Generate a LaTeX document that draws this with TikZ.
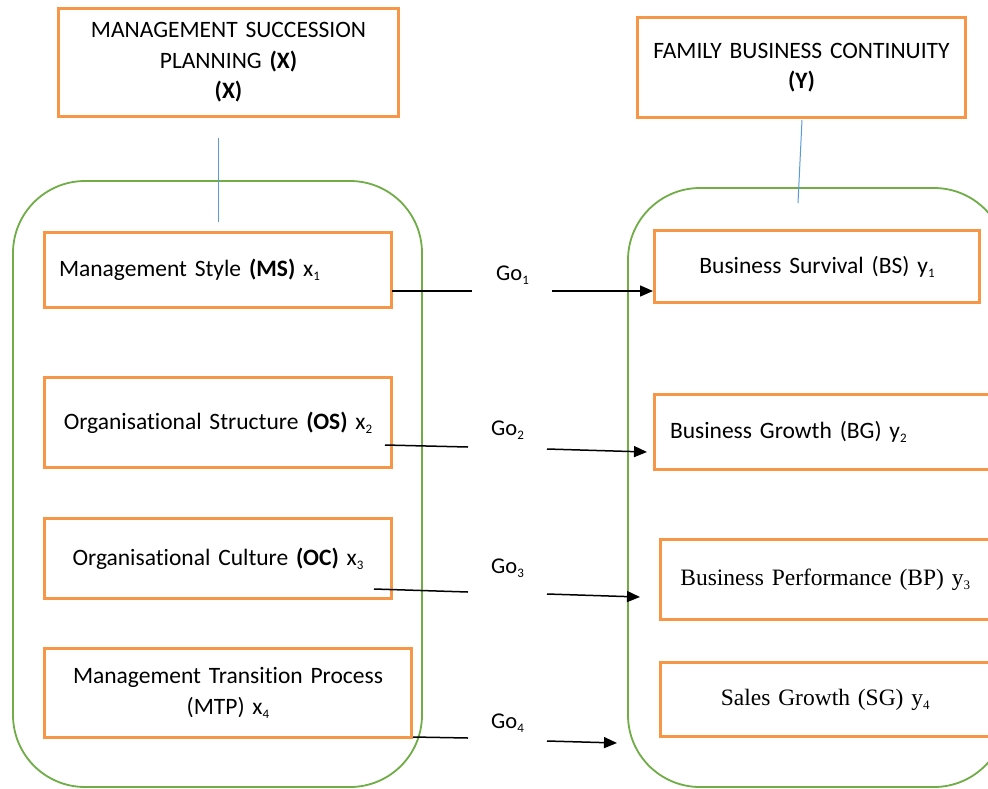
\documentclass[tikz,border=0pt]{standalone}
\usepackage{fontspec}
\setmainfont{Carlito}[Ligatures=NoCommon]
\newfontfamily\tnrfont{Liberation Serif}
\usetikzlibrary{arrows.meta}
\definecolor{boxor}{RGB}{247,150,70}
\definecolor{grpgreen}{RGB}{112,173,71}
\definecolor{linkblue}{RGB}{91,155,213}
\newcommand\subx[1]{\raisebox{-4pt}{\fontsize{13}{13}\selectfont #1}}
\begin{document}
\begin{tikzpicture}[x=1pt,y=-1pt,
  font=\fontsize{23.5}{30.5}\selectfont,
  box/.style={draw=boxor, line width=3pt, inner xsep=5pt, inner ysep=0pt, align=center},
  grp/.style={draw=grpgreen, line width=1.8pt, rounded corners=72pt},
  link/.style={draw=linkblue, line width=1pt},
  conn/.style={draw=black, line width=1.5pt},
  arr/.style={conn, -{Triangle[length=13pt,width=11pt]}},
  golbl/.style={anchor=base west, font=\fontsize{22.5}{24}\selectfont, inner sep=0pt}]
\clip (0,0) rectangle (988,788);
\fill[white] (0,0) rectangle (988,788);

% group containers
\draw[grp] (13,181) rectangle (422,787);
\draw[grp] (628,188) rectangle (1006,787);

% header boxes
\node[box, text width=330pt, minimum height=108pt] (X) at (228.5,62.5)
  {MANAGEMENT SUCCESSION\\PLANNING \textbf{(X)}\\\textbf{(X)}};
\node[box, text width=318pt, minimum height=100pt] (Y) at (801.5,67.5)
  {FAMILY BUSINESS CONTINUITY\\\textbf{(Y)}};

% blue links
\coordinate (xl1) at (218,138);
\coordinate (xl2) at (218,222);
\coordinate (yl1) at (802,120);
\coordinate (yl2) at (798,203);
\draw[link] (xl1) -- (xl2);
\draw[link] (yl1) -- (yl2);

% left boxes
\node[box, inner xsep=14.5pt, text width=318pt, align=left, minimum height=75pt] (MS) at (218,270)
  {Management Style \textbf{(MS)} x\subx{1}};
\node[box, text width=337pt, minimum height=90pt] (OS) at (218,422.5)
  {Organisational Structure \textbf{(OS)} x\subx{2}};
\node[box, text width=337pt, minimum height=80pt] (OC) at (218,558.5)
  {Organisational Culture \textbf{(OC)} x\subx{3}};
\node[box, text width=357pt, minimum height=89pt] (MTP) at (228,693)
  {Management Transition Process\\(MTP) x\subx{4}};

% right boxes
\node[box, text width=315pt, minimum height=72pt] (BS) at (817,266.5)
  {Business Survival (BS) y\subx{1}};
\node[box, inner xsep=15.5pt, text width=306.5pt, align=left, minimum height=75pt] (BG) at (823.25,432)
  {Business Growth (BG) y\subx{2}};
\node[box, text width=319.5pt, minimum height=80pt] (BP) at (825.25,579.5)
  {\tnrfont Business Performance (BP) y\subx{3}};
\node[box, text width=319.5pt, minimum height=74pt] (SG) at (825.25,699.5)
  {\tnrfont Sales Growth (SG) y\subx{4}};

% Go labels
\node[golbl] (go1) at (496,280) {Go\subx{1}};
\node[golbl] (go2) at (491,435) {Go\subx{2}};
\node[golbl] (go3) at (491,573) {Go\subx{3}};
\node[golbl] (go4) at (491,728) {Go\subx{4}};

% connectors
\coordinate (s1) at (392,291); \coordinate (m1) at (472,291);
\coordinate (n1) at (552,291); \coordinate (e1) at (653,291);
\coordinate (s2) at (385,445); \coordinate (m2) at (468,447);
\coordinate (n2) at (547,449); \coordinate (e2) at (647,452);
\coordinate (s3) at (374,589); \coordinate (m3) at (468,592);
\coordinate (n3) at (547,594); \coordinate (e3) at (640,597);
\coordinate (s4) at (413,737); \coordinate (m4) at (468,738);
\coordinate (n4) at (547,741); \coordinate (e4) at (617,743);
\draw[conn] (s1) -- (m1); \draw[arr] (n1) -- (e1);
\draw[conn] (s2) -- (m2); \draw[arr] (n2) -- (e2);
\draw[conn] (s3) -- (m3); \draw[arr] (n3) -- (e3);
\draw[conn] (s4) -- (m4); \draw[arr] (n4) -- (e4);
\end{tikzpicture}
\end{document}
